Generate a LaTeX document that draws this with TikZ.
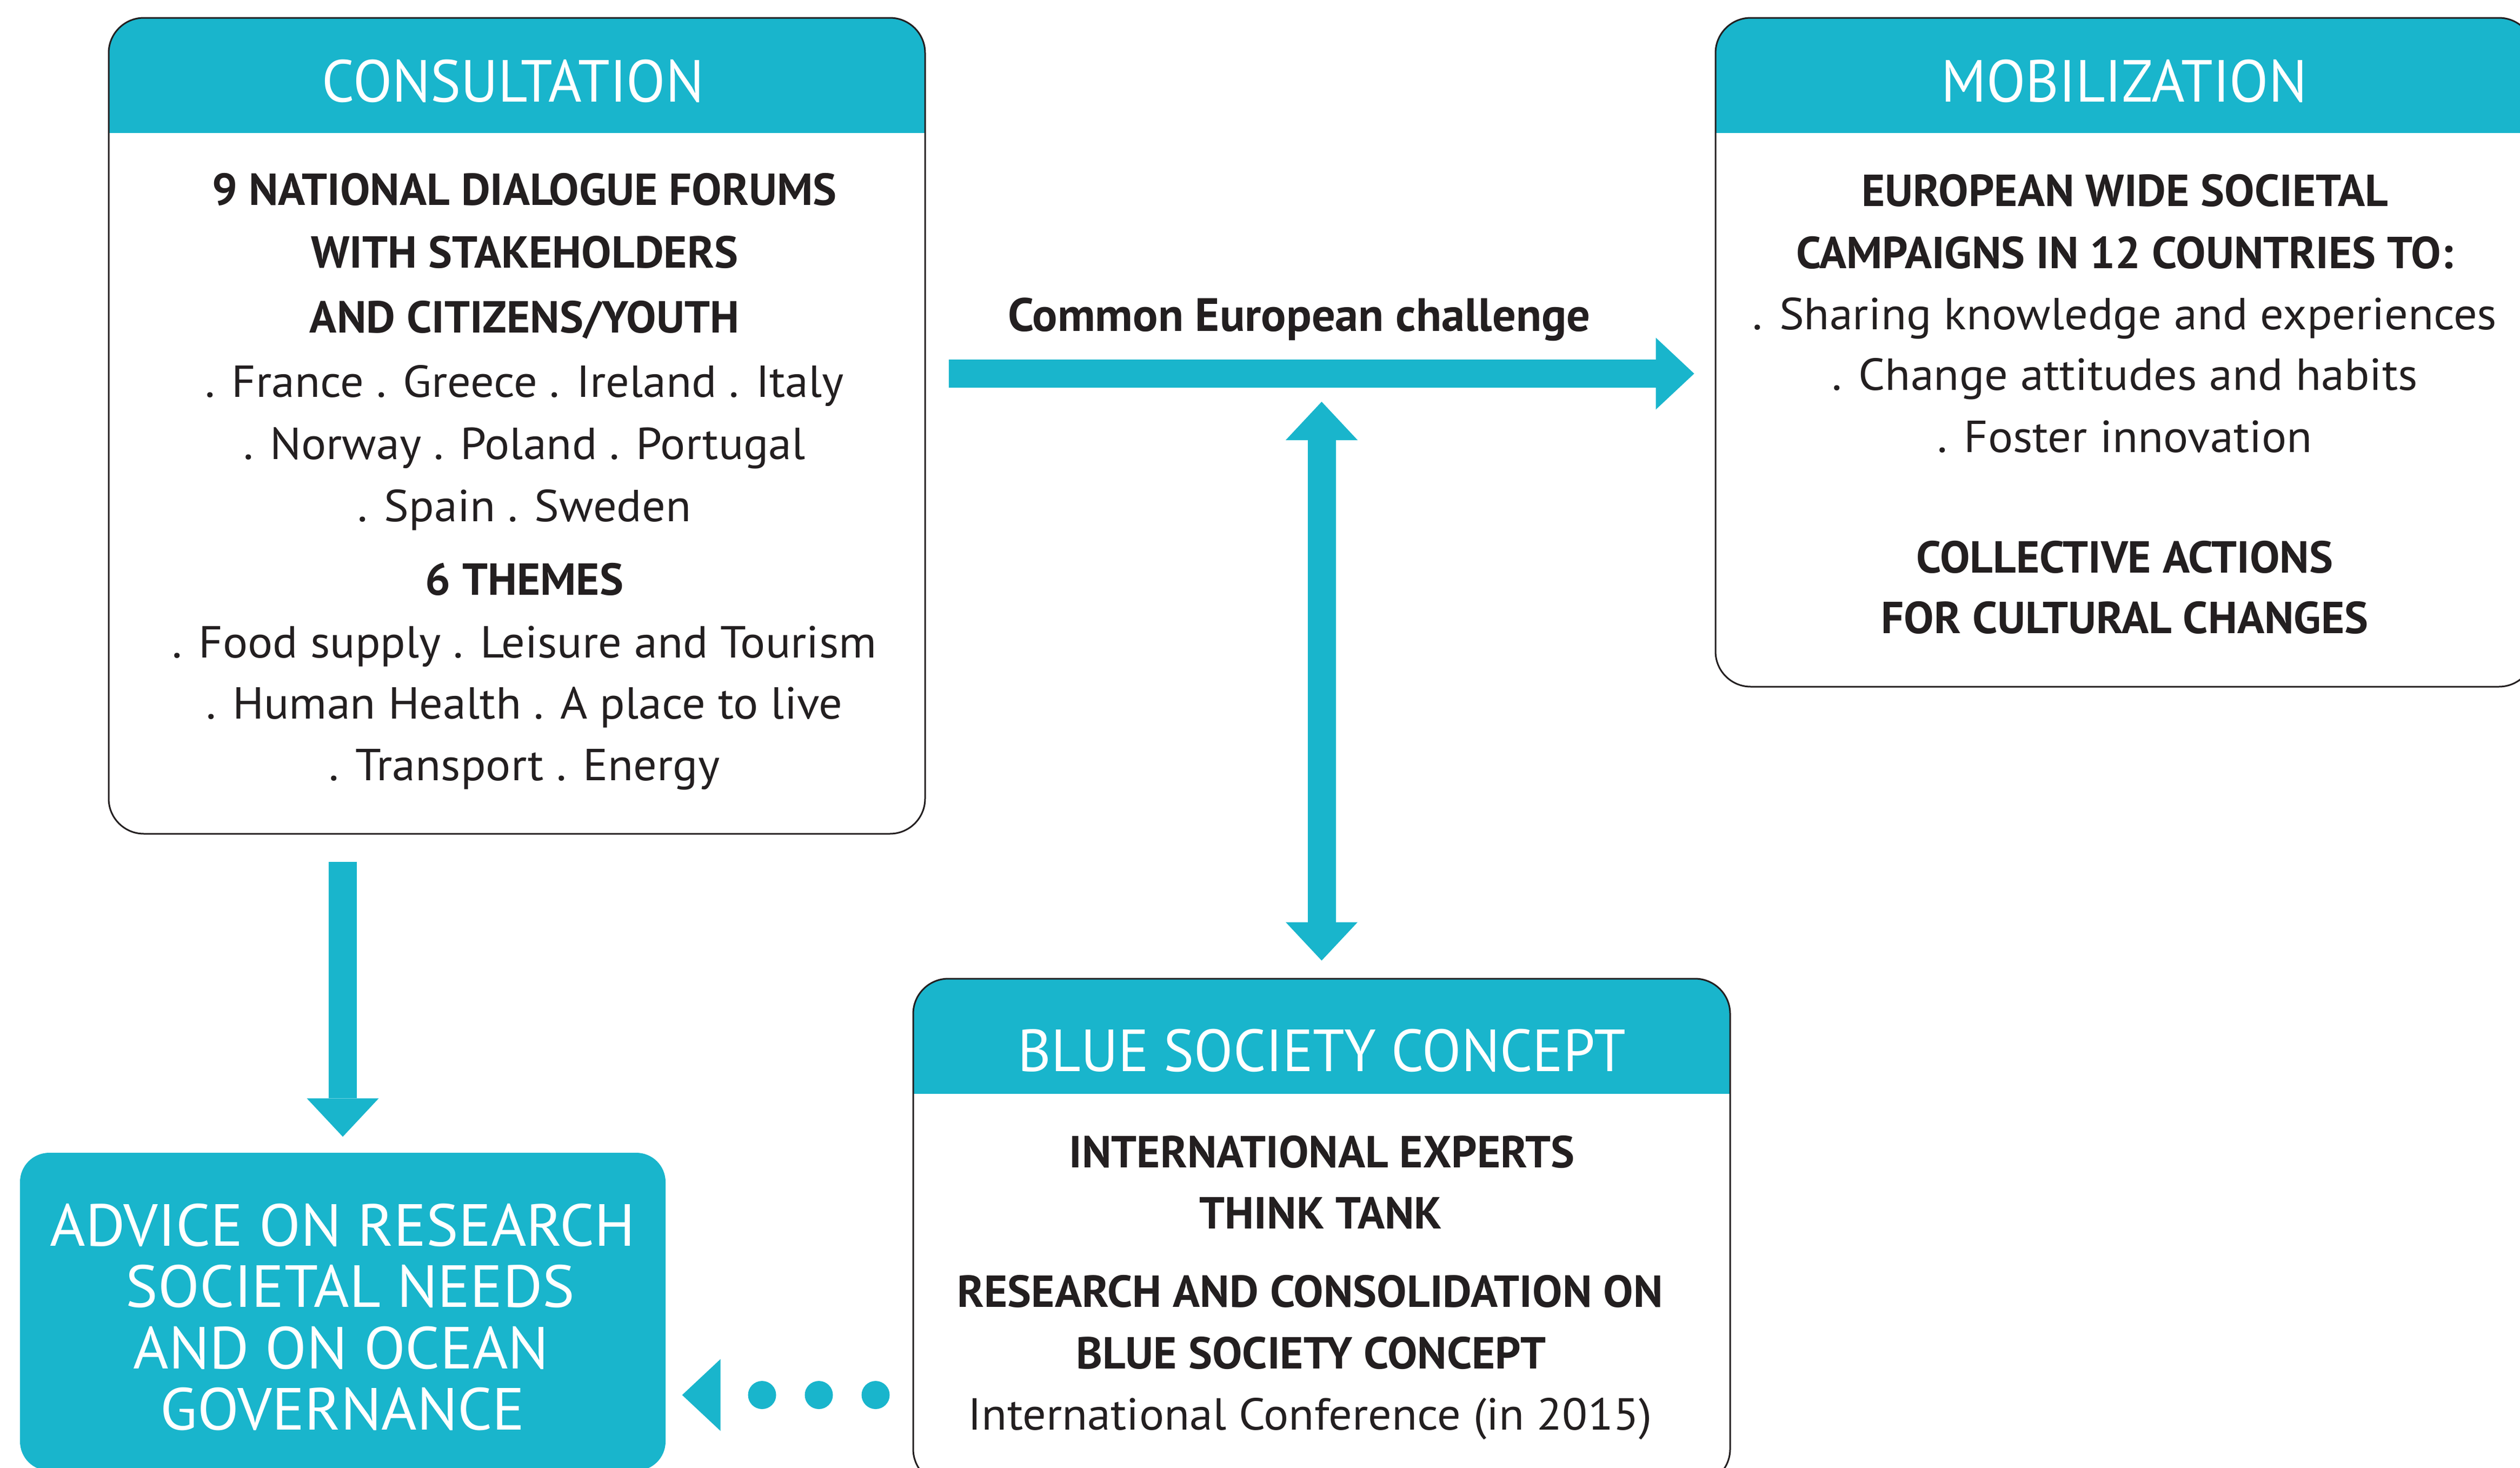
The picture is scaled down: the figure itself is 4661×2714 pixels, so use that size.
\documentclass[tikz,border=0pt]{standalone}
\usepackage{fontspec}
\setmainfont{PT Sans}
\newfontfamily\titlefont[FakeStretch=0.96]{PT Sans}
\newfontfamily\advfont[FakeStretch=1.02]{PT Sans}
\newfontfamily\litefont[FakeStretch=1.04]{PT Sans}
\usetikzlibrary{arrows.meta}
\definecolor{brand}{RGB}{25,181,204}
\definecolor{ink}{RGB}{35,31,32}
\tikzset{
  panel/.style={draw=ink, line width=0.3mm, rounded corners=6.5mm, inner sep=0pt,
    path picture={\fill[brand, sharp corners] (path picture bounding box.north west)
      rectangle ([yshift=-21.3mm]path picture bounding box.north east);}},
  title/.style={anchor=base, text=white, font=\titlefont\fontsize{31.3}{36}\selectfont},
  heavy/.style={anchor=base, text=ink, inner sep=0pt, font=\fontsize{23.6}{28}\selectfont\bfseries},
  lite/.style={anchor=base, text=ink, inner sep=0pt, font=\litefont\fontsize{23.6}{28}\selectfont},
  advtxt/.style={anchor=base, text=white, inner sep=0pt, font=\advfont\fontsize{31.3}{36}\selectfont},
  bigtip/.tip={Triangle[length=7.1mm, width=13.3mm, line width=0pt]},
  bigarrow/.style={draw=brand, line width=5.2mm, -bigtip},
  twoway/.style={draw=brand, line width=5.2mm, bigtip-bigtip},
  dotarrow/.style={draw=brand, line width=5.2mm, line cap=round,
    dash pattern=on 0pt off 10.5mm, -bigtip}
}
\begin{document}
\begin{tikzpicture}[x=0.1mm, y=-0.1mm]
    \useasboundingbox (0,0) rectangle (4661,2714);

    %% Consultation
    \node[panel, minimum width=151mm, minimum height=150.9mm] (cons) at (956,787.5) {};
    \node[title] (consT) at (949,189) {CONSULTATION};
    \node[heavy] (c1)  at (970,379)  {9 NATIONAL DIALOGUE FORUMS};
    \node[heavy] (c2)  at (970,495)  {WITH STAKEHOLDERS};
    \node[heavy] (c3)  at (970,615)  {AND CITIZENS/YOUTH};
    \node[lite]  (c4)  at (970,734)  {. France . Greece . Ireland . Italy};
    \node[lite]  (c5)  at (970,849)  {. Norway . Poland . Portugal};
    \node[lite]  (c6)  at (970,964)  {. Spain . Sweden};
    \node[heavy] (c7)  at (970,1100) {6 THEMES};
    \node[lite]  (c8)  at (970,1216) {. Food supply . Leisure and Tourism};
    \node[lite]  (c9)  at (970,1329) {. Human Health . A place to live};
    \node[lite]  (c10) at (970,1443) {. Transport . Energy};

    %% Mobilization
    \node[panel, minimum width=151.4mm, minimum height=123.7mm] (mob) at (3930,651.5) {};
    \node[title] (mobT) at (3929,189) {MOBILIZATION};
    \node[heavy] (m1) at (3930,381)  {EUROPEAN WIDE SOCIETAL};
    \node[heavy] (m2) at (3930,496)  {CAMPAIGNS IN 12 COUNTRIES TO:};
    \node[lite]  (m3) at (3930,609)  {. Sharing knowledge and experiences};
    \node[lite]  (m4) at (3930,721)  {. Change attitudes and habits};
    \node[lite]  (m5) at (3930,836)  {. Foster innovation};
    \node[heavy] (m6) at (3930,1059) {COLLECTIVE ACTIONS};
    \node[heavy] (m7) at (3930,1171) {FOR CULTURAL CHANGES};

    %% Blue society concept
    \node[panel, minimum width=151.1mm, minimum height=93.5mm] (blue) at (2444.5,2277.5) {};
    \node[title] (blueT) at (2445,1981) {BLUE SOCIETY CONCEPT};
    \node[heavy] (b1) at (2445,2159) {INTERNATIONAL EXPERTS};
    \node[heavy] (b2) at (2443,2272) {THINK TANK};
    \node[heavy] (b3) at (2423,2417) {RESEARCH AND CONSOLIDATION ON};
    \node[heavy] (b4) at (2425,2531) {BLUE SOCIETY CONCEPT};
    \node[lite]  (b5) at (2423,2644) {International Conference (in 2015)};

    %% Advice
    \node[fill=brand, rounded corners=5.4mm, inner sep=0pt,
          minimum width=119.4mm, minimum height=58.8mm] (advice) at (634,2426) {};
    \node[advtxt] (a1) at (634,2304) {ADVICE ON RESEARCH};
    \node[advtxt] (a2) at (648,2417) {SOCIETAL NEEDS};
    \node[advtxt] (a3) at (631,2531) {AND ON OCEAN};
    \node[advtxt] (a4) at (634,2644) {GOVERNANCE};

    %% Arrows
    \coordinate (chal) at ([xshift=4.2mm, yshift=9.65mm]cons.east);
    \node[anchor=base, text=ink, font=\fontsize{24.6}{30}\selectfont\bfseries] (chalT) at (2403,612) {Common European challenge};
    \draw[bigarrow, shorten >=3.8mm] (chal) -- (chal -| mob.west);
    \draw[twoway, shorten <=3.2mm, shorten >=5.2mm] (blue.north) -- (blue.north |- chal);
    \draw[bigarrow, shorten <=5mm, shorten >=2.9mm] (cons.south -| advice.north) -- (advice.north);
    \coordinate (dots) at ([xshift=-6.8mm, yshift=-30.25mm]blue.west);
    \draw[dotarrow, shorten >=3mm] (dots) -- (dots -| advice.east);

\end{tikzpicture}
\end{document}
